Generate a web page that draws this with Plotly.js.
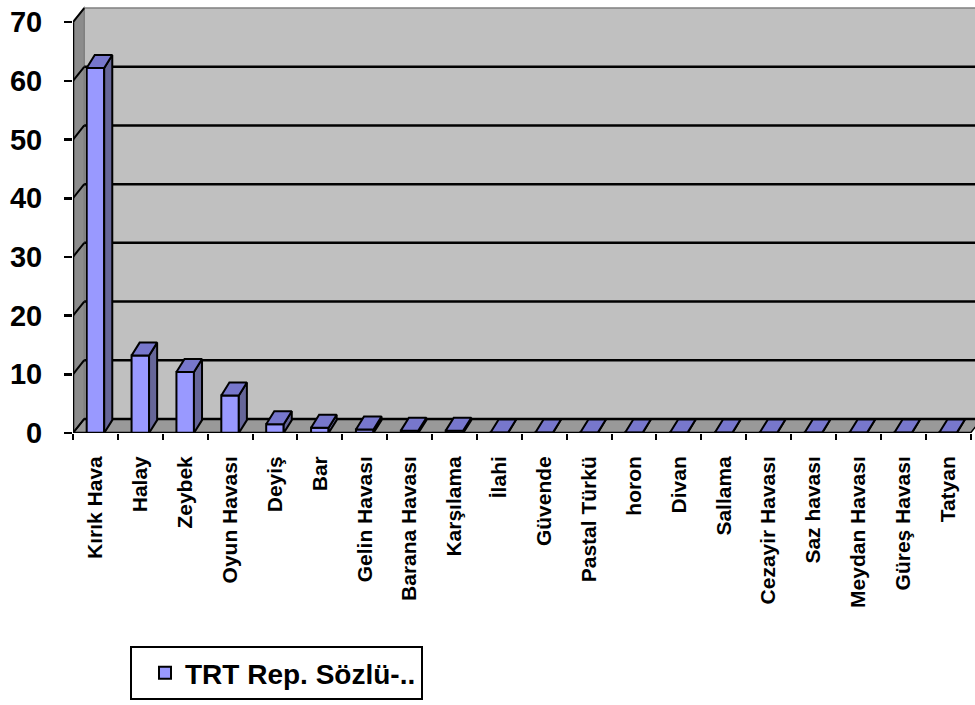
<!DOCTYPE html>
<html><head><meta charset="utf-8">
<script src="https://cdn.plot.ly/plotly-3.0.1.min.js"></script>
<style>html,body{margin:0;padding:0;background:#fff}</style>
</head><body><div id="chart" style="width:975px;height:705px"></div>
<script>
// ---- data ----
const categories = ["Kırık Hava","Halay","Zeybek","Oyun Havası","Deyiş","Bar","Gelin Havası","Barana Havası","Karşılama","İlahi","Güvende","Pastal Türkü","horon","Divan","Sallama","Cezayir Havası","Saz havası","Meydan Havası","Güreş Havası","Tatyan"];
const values = [62.2, 13.2, 10.4, 6.4, 1.5, 0.9, 0.6, 0.4, 0.4, 0.1, 0.1, 0.1, 0.1, 0.1, 0.1, 0.1, 0.1, 0.1, 0.1, 0.1];
const seriesName = "TRT Rep. Sözlü-..";
const yTicks = [0, 10, 20, 30, 40, 50, 60, 70];

// ---- 3D look (style) ----
const BAR_W = 0.39, BAR_DX = 0.18, BAR_DY = 2.2;
const WALL_DX = 0.25, WALL_DY = 2.4;
const n = categories.length;
const X0 = -0.5, X1 = n - 0.5, YMAX = yTicks[yTicks.length - 1];
const idx = categories.map((_, i) => i);

// side and top faces of bars computed from the data
const sideX = [], sideY = [], topX = [], topY = [];
values.forEach((v, i) => {
  const l = i - BAR_W / 2, r = i + BAR_W / 2;
  sideX.push(r, r + BAR_DX, r + BAR_DX, r, r, null);
  sideY.push(0, BAR_DY, v + BAR_DY, v, 0, null);
  topX.push(l, l + BAR_DX, r + BAR_DX, r, l, null);
  topY.push(v, v + BAR_DY, v + BAR_DY, v, v, null);
});

const shapes = [];
// back wall
shapes.push({type:'rect', xref:'x', yref:'y', layer:'below', x0:X0+WALL_DX, x1:X1+WALL_DX+1, y0:WALL_DY, y1:YMAX+WALL_DY,
  fillcolor:'#C0C0C0', line:{color:'#808080', width:1.5}});
// side wall
shapes.push({type:'path', xref:'x', yref:'y', layer:'below',
  path:`M${X0},0 L${X0+WALL_DX},${WALL_DY} L${X0+WALL_DX},${YMAX+WALL_DY} L${X0},${YMAX} Z`,
  fillcolor:'#8C8C8C', line:{color:'#808080', width:1.5}});
// floor
shapes.push({type:'path', xref:'x', yref:'y', layer:'below',
  path:`M${X0},0 L${X1},0 L${X1+WALL_DX},${WALL_DY} L${X0+WALL_DX},${WALL_DY} Z`,
  fillcolor:'#999999', line:{color:'#000000', width:1.5}});
// gridlines on back wall and diagonals on side wall
yTicks.forEach(v => {
  if (v < YMAX) shapes.push({type:'line', xref:'x', yref:'y', layer:'below', x0:X0+WALL_DX, x1:X1+WALL_DX+1, y0:v+WALL_DY, y1:v+WALL_DY, line:{color:'#000', width:2.5}});
  shapes.push({type:'line', xref:'x', yref:'y', layer:'below', x0:X0, x1:X0+WALL_DX, y0:v, y1:v+WALL_DY, line:{color:'#000', width:2}});
});
// axis lines
shapes.push({type:'line', xref:'x', yref:'y', layer:'above', x0:X0, x1:X0, y0:0, y1:YMAX, line:{color:'#000', width:2.5}});
shapes.push({type:'line', xref:'x', yref:'y', layer:'above', x0:X0, x1:X1, y0:0, y1:0, line:{color:'#000', width:2.5}});

const traces = [
  {type:'bar', x:idx, y:values, width:BAR_W, name:seriesName,
   marker:{color:'#9999FF', line:{color:'#000', width:2}}, hoverinfo:'x+y'},
  {type:'scatter', mode:'lines', x:sideX, y:sideY, fill:'toself', fillcolor:'#666699',
   line:{color:'#000', width:2}, showlegend:false, hoverinfo:'skip'},
  {type:'scatter', mode:'lines', x:topX, y:topY, fill:'toself', fillcolor:'#7777CC',
   line:{color:'#000', width:2}, showlegend:false, hoverinfo:'skip'}
];

const boundaries = idx.map(i => i - 0.5).concat([X1]);
const layout = {
  width:975, height:705,
  margin:{l:73, r:0, t:4, b:272, autoexpand:false},
  paper_bgcolor:'#fff', plot_bgcolor:'#fff',
  font:{family:'Liberation Sans, Arial, sans-serif', color:'#000'},
  showlegend:true,
  xaxis:{range:[X0, X1+0.1], tickmode:'array', tickvals:idx, ticktext:categories, ticks:'',
    tickangle:-90, tickfont:{size:21, weight:'bold', family:'Liberation Sans, Arial', color:'#000'},
    ticklabelstandoff:18, showgrid:false, zeroline:false, showline:false, fixedrange:true,
    minor:{tickmode:'array', tickvals:boundaries, ticks:'outside', ticklen:6, tickwidth:2, tickcolor:'#000', showgrid:false}},
  yaxis:{range:[0, 73.1], tickmode:'array', tickvals:yTicks, ticks:'outside', ticklen:8, tickwidth:2.5, tickcolor:'#000',
    tickfont:{size:29, weight:'bold', family:'Liberation Sans, Arial', color:'#000'},
    ticklabelstandoff:16, showgrid:false, zeroline:false, showline:false, fixedrange:true},
  legend:{xref:'container', yref:'container', x:130/975, y:1-646/705, xanchor:'left', yanchor:'top',
    indentation:13, bgcolor:'#fff', bordercolor:'#000', borderwidth:2,
    font:{size:28, weight:'bold', family:'Liberation Sans, Arial', color:'#000'}},
  shapes:shapes
};
Plotly.newPlot('chart', traces, layout, {displayModeBar:false, staticPlot:true});
</script></body></html>
